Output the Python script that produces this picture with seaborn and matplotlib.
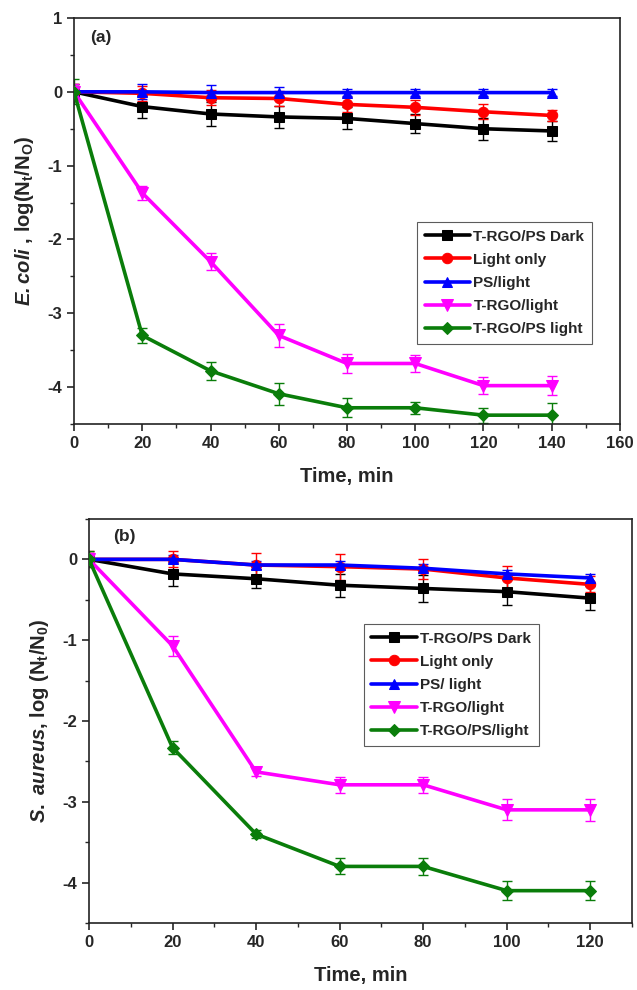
import matplotlib
matplotlib.use("Agg")
import matplotlib.pyplot as plt
from matplotlib.ticker import MultipleLocator
import seaborn as sns

# ---- data: E. coli (panel a) ----
time_a = [0, 20, 40, 60, 80, 100, 120, 140]
ec_dark = [0, -0.20, -0.30, -0.34, -0.36, -0.43, -0.50, -0.53]
ec_light = [0, -0.02, -0.08, -0.09, -0.17, -0.21, -0.27, -0.32]
ec_ps = [0, 0.0, -0.01, -0.01, -0.01, -0.01, -0.01, -0.01]
ec_trgo = [0, -1.37, -2.30, -3.30, -3.68, -3.68, -3.98, -3.98]
ec_trgo_ps = [0, -3.30, -3.78, -4.09, -4.28, -4.28, -4.38, -4.38]
ec_dark_err = [0.10, 0.15, 0.16, 0.15, 0.15, 0.13, 0.15, 0.14]
ec_light_err = [0.10, 0.10, 0.10, 0.10, 0.10, 0.10, 0.10, 0.08]
ec_ps_err = [0.08, 0.10, 0.10, 0.08, 0.05, 0.05, 0.05, 0.05]
ec_trgo_err = [0.10, 0.10, 0.12, 0.15, 0.13, 0.12, 0.12, 0.13]
ec_trgo_ps_err = [0.17, 0.10, 0.12, 0.15, 0.13, 0.08, 0.10, 0.16]
labels_a = ["T-RGO/PS Dark", "Light only", "PS/light", "T-RGO/light", "T-RGO/PS light"]

# ---- data: S. aureus (panel b) ----
time_b = [0, 20, 40, 60, 80, 100, 120]
sa_dark = [0, -0.18, -0.24, -0.32, -0.36, -0.40, -0.48]
sa_light = [0, 0.0, -0.07, -0.09, -0.12, -0.23, -0.31]
sa_ps = [0, 0.0, -0.07, -0.07, -0.11, -0.18, -0.23]
sa_trgo = [0, -1.07, -2.63, -2.79, -2.79, -3.10, -3.10]
sa_trgo_ps = [0, -2.33, -3.40, -3.80, -3.80, -4.10, -4.10]
sa_dark_err = [0.08, 0.15, 0.12, 0.14, 0.17, 0.16, 0.15]
sa_light_err = [0.10, 0.10, 0.15, 0.16, 0.12, 0.15, 0.10]
sa_ps_err = [0.05, 0.05, 0.05, 0.05, 0.05, 0.05, 0.05]
sa_trgo_err = [0.08, 0.12, 0.05, 0.10, 0.10, 0.13, 0.14]
sa_trgo_ps_err = [0.10, 0.08, 0.05, 0.10, 0.11, 0.12, 0.12]
labels_b = ["T-RGO/PS Dark", "Light only", "PS/ light", "T-RGO/light", "T-RGO/PS/light"]

colors = ["#000000", "#ff0000", "#0000ff", "#ff00ff", "#0a7d0a"]
markers = ["s", "o", "^", "v", "D"]
msizes = [7, 7.5, 7.5, 8, 6]

sns.set_style("ticks")
plt.rcParams.update({
    "font.family": ["Liberation Sans", "DejaVu Sans"],
    "font.weight": "bold",
    "axes.labelweight": "bold",
    "axes.unicode_minus": False,
    "mathtext.fontset": "custom",
    "mathtext.rm": "Liberation Sans:bold",
    "mathtext.it": "Liberation Sans:italic",
    "mathtext.bf": "Liberation Sans:bold",
    "mathtext.bfit": "Liberation Sans:italic:bold",
    "axes.linewidth": 1.2,
    "axes.edgecolor": "#222222",
    "xtick.major.width": 1.2, "ytick.major.width": 1.2,
    "xtick.minor.width": 1.0, "ytick.minor.width": 1.0,
    "xtick.major.size": 5, "ytick.major.size": 5,
    "xtick.minor.size": 3, "ytick.minor.size": 3,
    "xtick.direction": "out", "ytick.direction": "out",
})

fig = plt.figure(figsize=(6.37, 9.9), dpi=100)
ax_a = fig.add_axes([0.1162, 0.5717, 0.9733 - 0.1162, 0.9818 - 0.5717])
ax_b = fig.add_axes([0.1397, 0.0677, 0.9922 - 0.1397, 0.4758 - 0.0677])


def draw_panel(ax, t, series, errs, labels):
    for y, e, c, m, ms, lab in zip(series, errs, colors, markers, msizes, labels):
        ax.errorbar(t, y, yerr=e, fmt="none", ecolor=c, elinewidth=1.0,
                    capsize=3.5, capthick=1.0, zorder=2)
        sns.lineplot(x=t, y=y, ax=ax, color=c, marker=m, markersize=ms,
                     markeredgecolor=c, linewidth=2.6, label=lab, zorder=3)
    for side in ("top", "right"):
        ax.spines[side].set_visible(True)
    ax.tick_params(which="both", top=False, right=False, labelsize=12)
    for lbl in ax.get_xticklabels() + ax.get_yticklabels():
        lbl.set_fontweight("bold")


def style_legend(ax, anchor):
    leg = ax.legend(loc="upper left", bbox_to_anchor=anchor,
                    prop={"size": 11, "weight": "bold"}, handlelength=3.0,
                    handletextpad=0.2, labelspacing=0.6, borderpad=0.5,
                    frameon=True, fancybox=False, borderaxespad=0)
    leg.get_frame().set_edgecolor("#333333")
    leg.get_frame().set_linewidth(0.8)
    return leg


draw_panel(ax_a, time_a, [ec_dark, ec_light, ec_ps, ec_trgo, ec_trgo_ps],
           [ec_dark_err, ec_light_err, ec_ps_err, ec_trgo_err, ec_trgo_ps_err], labels_a)
ax_a.set_xlim(0, 160)
ax_a.set_ylim(-4.5, 1)
ax_a.xaxis.set_major_locator(MultipleLocator(20))
ax_a.xaxis.set_minor_locator(MultipleLocator(10))
ax_a.yaxis.set_major_locator(MultipleLocator(1))
ax_a.yaxis.set_minor_locator(MultipleLocator(0.5))
ax_a.set_xlabel("Time, min", fontsize=14.5, fontweight="bold", labelpad=12)
ax_a.set_ylabel(r"$\mathbfit{E.coli}$ , log(N$_\mathrm{t}$/N$_\mathrm{O}$)",
                fontsize=14.5, fontweight="bold", labelpad=8)
ax_a.text(0.03, 0.97, "(a)", transform=ax_a.transAxes, fontsize=12.5,
          fontweight="bold", va="top", ha="left")
style_legend(ax_a, (0.628, 0.4975))

draw_panel(ax_b, time_b, [sa_dark, sa_light, sa_ps, sa_trgo, sa_trgo_ps],
           [sa_dark_err, sa_light_err, sa_ps_err, sa_trgo_err, sa_trgo_ps_err], labels_b)
ax_b.set_xlim(0, 130)
ax_b.set_ylim(-4.5, 0.5)
ax_b.xaxis.set_major_locator(MultipleLocator(20))
ax_b.xaxis.set_minor_locator(MultipleLocator(10))
ax_b.yaxis.set_major_locator(MultipleLocator(1))
ax_b.yaxis.set_minor_locator(MultipleLocator(0.5))
ax_b.set_xlabel("Time, min", fontsize=14.5, fontweight="bold", labelpad=12)
ax_b.set_ylabel(r"$\mathit{S.\ aureus}$, log (N$_\mathrm{t}$/N$_\mathrm{0}$)",
                fontsize=14.5, fontweight="bold", labelpad=8)
ax_b.text(0.044, 0.975, "(b)", transform=ax_b.transAxes, fontsize=12.5,
          fontweight="bold", va="top", ha="left")
style_legend(ax_b, (0.506, 0.740))

fig.savefig("out.png", dpi=100)
